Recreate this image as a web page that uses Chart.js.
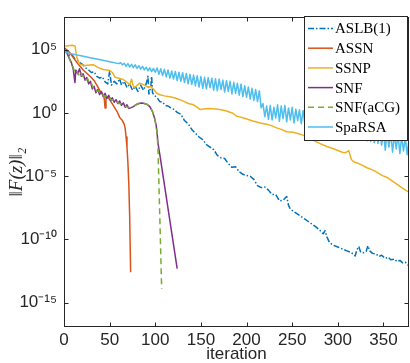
<!DOCTYPE html>
<html><head><meta charset="utf-8">
<script src="https://cdn.jsdelivr.net/npm/chart.js@4.4.1/dist/chart.umd.min.js"></script>
<style>html,body{margin:0;padding:0;background:#fff;}#wrap{width:410px;height:363px;}</style>
</head><body><div id="wrap"><canvas id="c" width="410" height="363"></canvas></div>
<script>
const seriesNames = ['ASLB(1)','ASSN','SSNP','SNF','SNF(aCG)','SpaRSA'];
const xTickValues = [0,50,100,150,200,250,300,350];
const yTickExponents = [-15,-10,-5,0,5];

// exponents (log10 of ||F(z)||_2)
const aslbIter = [0,3,6,9,12,15,18,21,24,27,30,33,36,39,42,45,48,50,52,55,58,61,63,66,69,72,75,78,81,84,87,90,92,93,95,96,97,99,102,105,108,111,114,117,120,124,128,132,136,140,144,148,152,156,160,164,168,172,176,180,184,188,192,196,200,204,208,212,216,220,224,228,232,236,240,244,246,248,252,256,260,264,268,272,276,280,284,286,288,291,295,300,305,310,315,319,321,323,325,328,331,333,335,338,342,345,348,352,355,358,362,365,368,371,374,378];
const aslbExp = [5.13,4.9,4.55,4.6,4.25,4.15,3.95,3.8,3.55,3.4,3.2,3.25,2.9,2.75,2.85,2.45,2.3,3.3,2.2,2.5,2.3,2.7,2.2,2.5,2.0,2.3,1.8,2.1,1.7,2.2,1.8,2.3,2.9,1.5,2.0,2.9,1.6,1.4,1.2,0.9,0.85,0.6,0.55,0.4,0.3,0.05,-0.1,-0.6,-0.85,-1.3,-1.6,-1.9,-2.1,-2.5,-2.7,-2.9,-3.35,-3.55,-3.6,-4.0,-4.3,-4.25,-4.65,-4.85,-4.95,-5.0,-5.25,-5.75,-5.9,-5.85,-6.1,-6.45,-6.45,-6.95,-6.9,-6.6,-7.3,-7.6,-7.8,-8.0,-8.2,-8.4,-8.6,-8.8,-9.0,-9.25,-9.55,-9.3,-9.8,-10.25,-10.45,-10.6,-10.75,-10.9,-11.05,-11.3,-10.8,-10.55,-11.0,-11.05,-10.95,-10.5,-10.9,-11.1,-11.15,-11.35,-11.25,-11.5,-11.4,-11.6,-11.55,-11.75,-11.65,-11.85,-11.8,-12.1];

const assnIter = [0,3,6,9,12,15,18,21,24,27,30,33,36,39,42,44,45,46,48,50,54,58,61,64,66,67,68,69,70,71,72,73];
const assnExp = [5.13,5.0,4.8,4.5,4.2,3.9,3.65,3.4,3.2,3.0,2.8,2.55,2.2,1.8,1.5,1.2,0.4,1.25,1.25,1.05,0.6,0.13,-0.35,-0.6,-0.9,-1.2,-1.9,-2.7,-3.9,-5.6,-8.3,-12.6];

const ssnpIter = [0,9,12,14,17,23,28,32,37,43,50,53,56,60,64,69,72,74,76,78,83,88,92,95,98,101,105,110,116,121,127,132,136,141,145,149,155,160,165,171,178,185,189,197,207,215,222,228,233,238,244,251,256,262,270,280,288,296,305,308,312,315,318,321,326,332,338,343,349,354,359,365,370,376,378];
const ssnpExp = [5.28,5.36,5.3,4.4,3.85,3.75,3.8,3.82,3.6,3.44,3.36,3.2,2.82,2.75,2.67,2.44,2.2,2.67,2.1,2.05,2.36,2.2,2.05,2.1,1.9,1.6,1.44,1.35,1.28,1.2,1.05,0.9,0.75,0.67,0.5,0.28,0.33,0.36,0.32,0.28,0.15,-0.02,-0.25,-0.4,-0.64,-0.79,-0.9,-1.02,-1.18,-1.3,-1.48,-1.52,-1.62,-1.75,-2.05,-2.4,-2.65,-2.85,-3.1,-3.15,-2.98,-3.7,-3.88,-3.95,-4.1,-4.33,-4.5,-4.7,-4.95,-5.1,-5.35,-5.64,-5.9,-6.18,-6.25];

const snfIter = [0,2,4,6,8,10,12,13,15,17,19,21,23,25,27,29,31,33,35,37,39,41,43,45,47,49,51,53,55,57,59,61,63,65,67,69,71,73,76,79,82,85,88,91,94,97,99,101,102,103,105,124];
const snfExp = [5.2,5.0,4.6,4.3,4.0,3.5,2.4,3.4,3.1,3.5,2.9,3.1,2.6,2.8,2.3,2.5,1.9,2.1,1.6,1.85,1.45,1.7,1.3,1.55,1.15,1.4,1.0,1.2,0.85,1.05,0.75,0.95,0.6,0.8,0.45,0.65,0.35,0.4,0.5,0.65,0.75,0.78,0.75,0.68,0.5,0.1,-0.35,-1.0,-1.6,-2.4,-3.3,-12.3];

const acgIter = [0,2,4,6,8,10,12,14,16,18,20,22,24,26,28,30,32,34,36,38,40,42,44,46,48,50,52,54,56,58,60,62,64,66,68,70,73,76,79,82,85,88,91,94,97,99,101,102,103,104,105,106,107];
const acgExp = [5.15,4.95,4.7,4.25,3.9,3.6,3.2,3.35,3.0,3.3,2.9,2.95,2.6,2.7,2.3,2.35,2.0,2.05,1.7,1.75,1.5,1.55,1.3,1.35,1.15,1.2,1.0,1.05,0.85,0.9,0.75,0.75,0.6,0.6,0.5,0.45,0.42,0.52,0.65,0.75,0.78,0.75,0.68,0.5,0.1,-0.35,-1.0,-1.6,-2.9,-5.6,-8.3,-11.1,-13.9];

const sparsaIter = [0,10,20,30,40,50,60,
  62,64,66,68,70,72,74,76,78,80,82,84,86,88,90,92,94,96,98,100,
  102,104,106,108,110,112,114,116,118,120,122,124,126,128,130,132,134,136,138,140,142,144,146,148,150,
  152,154,156,158,160,162,164,166,168,170,172,174,176,178,180,182,184,186,188,190,192,194,196,198,200,202,204,206,208,210,212,214,
  216,218,220,222,224,226,228,230,232,234,236,238,240,242,244,246,248,250,252,254,256,258,
  260,262,264,266,268,270,272,274,276,278,280,282,284,286,288,290,292,294,296,298,300,302,304,306,308,310,312,314,316,318,
  320,322,324,326,328,330,332,334,336,338,340,342,344,346,348,350,352,354,356,358,360,362,364,366,368,370,372,374,376,378];
const sparsaExp = [4.8,4.65,4.5,4.35,4.2,4.05,3.9,
  3.98,3.80,3.93,3.68,3.90,3.64,3.84,3.58,3.80,3.52,3.74,3.46,3.68,3.40,3.62,3.33,3.57,3.27,3.52,3.22,
  3.55,3.05,3.50,2.95,3.45,2.85,3.40,2.75,3.32,2.68,3.28,2.55,3.22,2.50,3.18,2.40,3.12,2.30,3.05,2.25,3.00,2.15,2.95,2.05,2.88,
  1.95,2.82,1.90,2.80,2.00,2.75,1.80,2.70,1.75,2.68,1.85,2.60,1.65,2.55,1.70,2.50,1.50,2.42,1.55,2.35,1.40,2.28,1.30,2.15,1.25,2.05,1.10,1.95,1.00,1.85,0.90,1.75,
  0.40,0.75,-0.30,0.55,-0.50,0.60,-0.55,0.45,-0.40,0.65,-0.65,0.55,-0.45,0.60,-0.70,0.40,-0.55,0.45,-0.80,0.30,-0.60,0.25,
  -0.85,0.20,-0.95,0.15,-1.00,0.05,-1.05,0.00,-1.15,-0.05,-1.25,-0.15,-1.30,-0.20,-1.35,-0.30,-1.45,-0.35,-1.50,-0.45,-1.60,-0.50,-1.65,-0.60,-1.75,-0.70,-1.80,-0.75,-1.90,-0.85,
  -2.00,-0.90,-2.05,-1.00,-2.10,-1.05,-2.20,-1.15,-2.25,-1.20,-2.35,-1.30,-2.40,-1.40,-2.55,-1.45,-2.95,-1.55,-2.70,-1.60,-3.10,-1.70,-2.85,-1.75,-3.20,-1.85,-3.00,-1.95,-3.30,-2.05];

const colors = ['#0072BD','#D95319','#EDB120','#7E2F8E','#77AC30','#4DBEEE'];
const dashes = [[6,2,1.5,2],[],[],[],[6,4],[]];
const iters = [aslbIter, assnIter, ssnpIter, snfIter, acgIter, sparsaIter];
const exps = [aslbExp, assnExp, ssnpExp, snfExp, acgExp, sparsaExp];

function toPoints(xs, es){ return xs.map((x,i)=>({x:x, y:Math.pow(10, es[i])})); }

const supMap = {'-':'\u207B','0':'\u2070','1':'\u00B9','2':'\u00B2','3':'\u00B3','4':'\u2074','5':'\u2075','6':'\u2076','7':'\u2077','8':'\u2078','9':'\u2079'};
function sup(n){ return String(n).split('').map(c=>supMap[c]).join(''); }

const tickFont = "'Liberation Sans Narrow','Arial Narrow','Liberation Sans',Arial,sans-serif";
const axisColor = '#262626';

const datasets = seriesNames.map((name,i)=>({
  label: name,
  data: toPoints(iters[i], exps[i]),
  borderColor: colors[i],
  backgroundColor: colors[i],
  borderWidth: 1.5,
  borderDash: dashes[i],
  pointRadius: 0,
  fill: false,
  tension: 0,
  order: seriesNames.length - i
}));

const framePlugin = {
  id: 'frame',
  afterDatasetsDraw(chart){
    const ctx = chart.ctx;
    const a = chart.chartArea;
    const xs = chart.scales.x, ys = chart.scales.y;
    ctx.save();
    ctx.strokeStyle = axisColor;
    ctx.lineWidth = 1;
    ctx.setLineDash([]);
    const L = Math.round(a.left)+0.5, R = Math.round(a.right)-0.5, T = Math.round(a.top)+0.5, B = Math.round(a.bottom)-0.5;
    ctx.strokeRect(L, T, R-L, B-T);
    ctx.beginPath();
    xTickValues.forEach(v=>{
      const px = Math.round(xs.getPixelForValue(v))+0.5;
      ctx.moveTo(px, B); ctx.lineTo(px, B-4);
      ctx.moveTo(px, T); ctx.lineTo(px, T+4);
    });
    yTickExponents.forEach(e=>{
      const py = Math.round(ys.getPixelForValue(Math.pow(10,e)))+0.5;
      ctx.moveTo(L, py); ctx.lineTo(L+4, py);
      ctx.moveTo(R, py); ctx.lineTo(R-4, py);
    });
    ctx.stroke();

    // legend box
    const bx = 304.5, by = 16.5, bw = 103, bh = 124;
    ctx.fillStyle = '#fff';
    ctx.fillRect(bx, by, bw, bh);
    ctx.strokeStyle = axisColor;
    ctx.strokeRect(bx, by, bw, bh);
    ctx.font = "15px 'Liberation Serif','Times New Roman',serif";
    ctx.textBaseline = 'middle';
    ctx.textAlign = 'left';
    seriesNames.forEach((name,i)=>{
      const yy = 28.5 + i*19.7;
      ctx.beginPath();
      ctx.strokeStyle = colors[i];
      ctx.lineWidth = 1.5;
      ctx.setLineDash(dashes[i]);
      ctx.moveTo(308, yy); ctx.lineTo(333, yy);
      ctx.stroke();
      ctx.setLineDash([]);
      ctx.fillStyle = '#000';
      ctx.fillText(name, 335, yy+1);
    });
    ctx.restore();
  }
};

new Chart(document.getElementById('c'), {
  type: 'line',
  data: { datasets },
  options: {
    responsive: false,
    animation: false,
    devicePixelRatio: 1,
    layout: { padding: { top: 8, right: 1, left: 0, bottom: 0 } },
    plugins: { legend: { display: false }, tooltip: { enabled: false } },
    elements: { line: { borderJoinStyle: 'round' } },
    scales: {
      x: {
        type: 'linear', min: 0, max: 378,
        grid: { display: false, drawTicks: false },
        border: { display: false },
        afterBuildTicks: s => { s.ticks = xTickValues.map(v=>({value:v})); },
        afterFit: s => { s.height = 36; },
        ticks: { color: axisColor, font: { family: tickFont, size: 17 }, padding: 3, maxRotation: 0, autoSkip: false },
        title: { display: true, text: 'iteration', color: axisColor, font: { family: tickFont, size: 17, lineHeight: 1 }, padding: { top: 0, bottom: 0 } }
      },
      y: {
        type: 'logarithmic', min: Math.pow(10,-16.92), max: Math.pow(10,7.57),
        grid: { display: false, drawTicks: false },
        border: { display: false },
        afterBuildTicks: s => { s.ticks = yTickExponents.map(e=>({value:Math.pow(10,e)})); },
        afterFit: s => { s.width = 64; },
        ticks: { color: axisColor, font: { family: tickFont, size: 17 }, padding: 7, autoSkip: false,
          callback: v => '10' + sup(Math.round(Math.log10(v))) },
        title: { display: true, text: '\u2016F(z)\u2016\u2082', color: axisColor, font: { family: "'Liberation Serif','Times New Roman',serif", size: 19, style: 'italic', lineHeight: 1.1 }, padding: { top: 7, bottom: 0 } }
      }
    }
  },
  plugins: [framePlugin]
});
</script>
</body></html>
